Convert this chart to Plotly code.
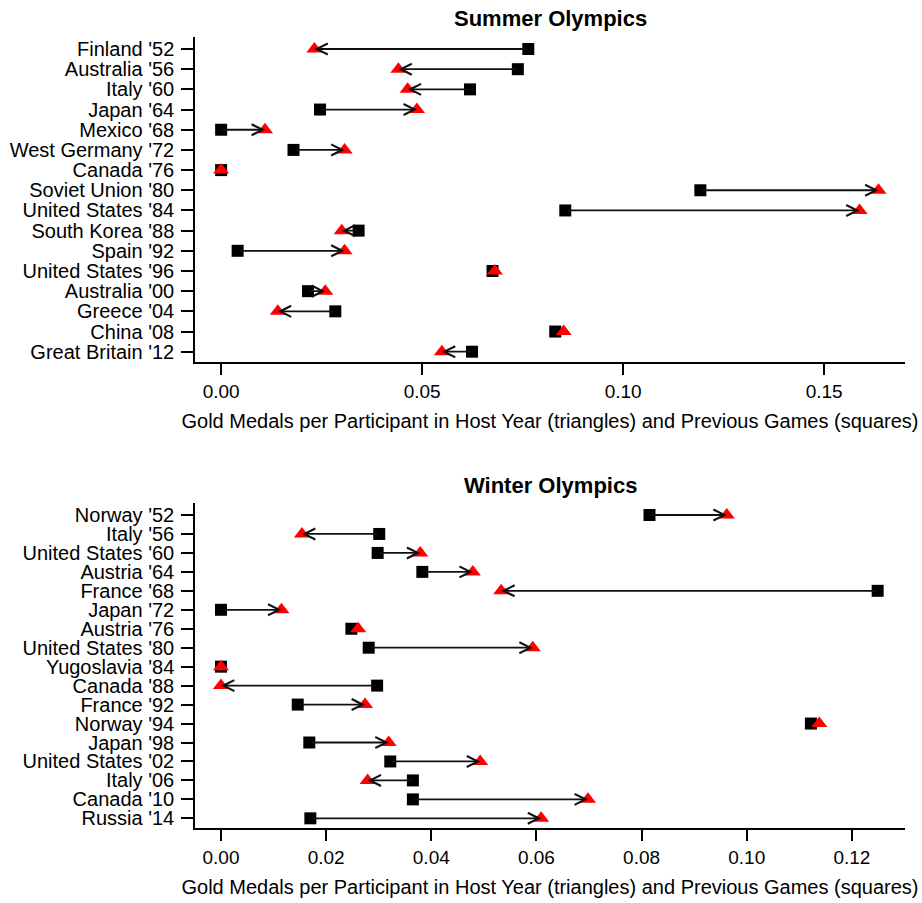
import plotly.graph_objects as go

# ---------------- data ----------------
summer_labels = ["Finland '52", "Australia '56", "Italy '60", "Japan '64", "Mexico '68",
                 "West Germany '72", "Canada '76", "Soviet Union '80", "United States '84",
                 "South Korea '88", "Spain '92", "United States '96", "Australia '00",
                 "Greece '04", "China '08", "Great Britain '12"]
summer_prev = [0.0764, 0.0738, 0.0619, 0.0246, 0.0000, 0.0180, 0.0000, 0.1192, 0.0856,
               0.0342, 0.0041, 0.0675, 0.0216, 0.0284, 0.0831, 0.0624]
summer_host = [0.0232, 0.0441, 0.0464, 0.0487, 0.0109, 0.0307, 0.0000, 0.1635, 0.1588,
               0.0300, 0.0307, 0.0681, 0.0259, 0.0141, 0.0852, 0.0549]
summer_ticks = [0.00, 0.05, 0.10, 0.15]

winter_labels = ["Norway '52", "Italy '56", "United States '60", "Austria '64", "France '68",
                 "Japan '72", "Austria '76", "United States '80", "Yugoslavia '84",
                 "Canada '88", "France '92", "Norway '94", "Japan '98", "United States '02",
                 "Italy '06", "Canada '10", "Russia '14"]
winter_prev = [0.0815, 0.0301, 0.0298, 0.0383, 0.1249, 0.0000, 0.0248, 0.0281, 0.0000,
               0.0297, 0.0146, 0.1122, 0.0168, 0.0322, 0.0365, 0.0365, 0.0170]
winter_host = [0.0962, 0.0154, 0.0379, 0.0479, 0.0533, 0.0115, 0.0261, 0.0593, 0.0000,
               0.0000, 0.0274, 0.1138, 0.0319, 0.0493, 0.0279, 0.0698, 0.0609]
winter_ticks = [0.00, 0.02, 0.04, 0.06, 0.08, 0.10, 0.12]

axis_title = "Gold Medals per Participant in Host Year (triangles) and Previous Games (squares)"

FONT = "Liberation Sans, Arial, sans-serif"
W, H = 922, 903

fig = go.Figure()
annotations = []


def add_panel(labels, prev, host, xa, ya):
    idx = list(range(len(labels)))
    fig.add_trace(go.Scatter(x=prev, y=idx, mode="markers", xaxis=xa, yaxis=ya,
                             marker=dict(symbol="square", size=12, color="black"),
                             showlegend=False, hoverinfo="skip"))
    fig.add_trace(go.Scatter(x=host, y=idx, mode="markers", xaxis=xa, yaxis=ya,
                             marker=dict(symbol="triangle-up", size=14, color="#ff0000"),
                             showlegend=False, hoverinfo="skip"))
    for i, (p, h) in enumerate(zip(prev, host)):
        if abs(h - p) < 0.0025:
            continue
        annotations.append(dict(
            x=h, y=i, ax=p, ay=i, xref=xa, yref=ya, axref=xa, ayref=ya,
            text="", showarrow=True, arrowhead=5, arrowsize=1.2, arrowwidth=1.8,
            arrowcolor="#111111", standoff=0, startstandoff=0))


add_panel(summer_labels, summer_prev, summer_host, "x", "y")
add_panel(winter_labels, winter_prev, winter_host, "x2", "y2")

xdom = [195 / W, 905 / W]
top_dom = [1 - 362 / H, 1 - 37 / H]
bot_dom = [1 - 828 / H, 1 - 503 / H]

common_x = dict(showline=True, linecolor="black", linewidth=1.5, ticks="outside",
                ticklen=11, tickwidth=1.5, tickcolor="black", showgrid=False,
                zeroline=False, tickformat=".2f",
                tickfont=dict(family=FONT, size=19, color="black"),
                title=dict(text=axis_title, font=dict(family=FONT, size=20, color="black"),
                           standoff=13))
common_y = dict(showline=True, linecolor="black", linewidth=1.5, ticks="outside",
                ticklen=12, tickwidth=1.5, tickcolor="black", showgrid=False,
                zeroline=False, ticklabelstandoff=3,
                tickfont=dict(family=FONT, size=20, color="black"))

fig.update_layout(
    width=W, height=H,
    margin=dict(l=0, r=0, t=0, b=0),
    paper_bgcolor="white", plot_bgcolor="white",
    xaxis=dict(domain=xdom, anchor="y", range=[-0.0065, 0.1701],
               tickvals=summer_ticks, **common_x),
    yaxis=dict(domain=top_dom, anchor="x", range=[15.51, -0.595],
               tickvals=list(range(len(summer_labels))), ticktext=summer_labels, **common_y),
    xaxis2=dict(domain=xdom, anchor="y2", range=[-0.00494, 0.1301],
                tickvals=winter_ticks, **common_x),
    yaxis2=dict(domain=bot_dom, anchor="x2", range=[16.51, -0.633],
                tickvals=list(range(len(winter_labels))), ticktext=winter_labels, **common_y),
    annotations=annotations + [
        dict(text="<b>Summer Olympics</b>", x=(xdom[0] + xdom[1]) / 2, y=1 - 18 / H,
             xref="paper", yref="paper", showarrow=False, xanchor="center", yanchor="middle",
             font=dict(family=FONT, size=22, color="black")),
        dict(text="<b>Winter Olympics</b>", x=(xdom[0] + xdom[1]) / 2, y=1 - 485 / H,
             xref="paper", yref="paper", showarrow=False, xanchor="center", yanchor="middle",
             font=dict(family=FONT, size=22, color="black")),
    ],
)

fig.write_html("out.html", config={"displayModeBar": False},
               post_script="document.body.style.margin='0';")
